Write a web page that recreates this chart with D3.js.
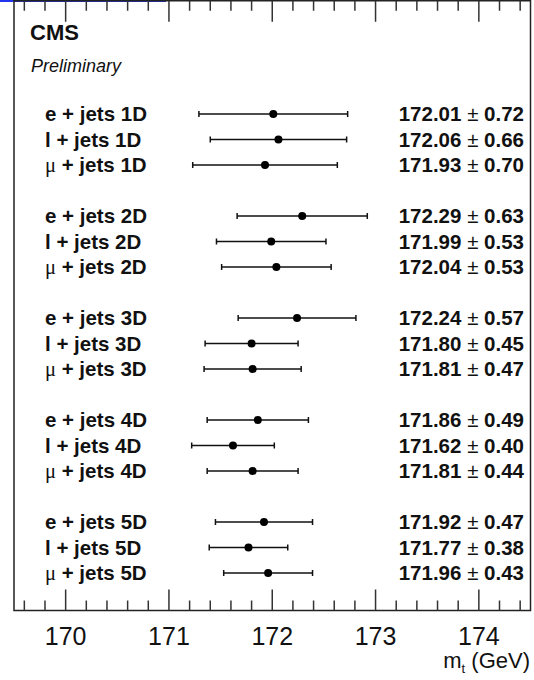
<!DOCTYPE html>
<html>
<head>
<meta charset="utf-8">
<script src="https://cdn.jsdelivr.net/npm/d3@7"></script>
<style>
  body { margin: 0; background: #fff; }
  svg { display: block; }
  text { font-family: "Liberation Sans", Arial, Helvetica, sans-serif; }
</style>
</head>
<body>
<svg id="chart" width="534" height="680"></svg>
<script>
// ---- data ----
const leptons = ["e", "l", "μ"];
const dims = ["1D", "2D", "3D", "4D", "5D"];
const values = [172.01, 172.06, 171.93, 172.29, 171.99, 172.04, 172.24, 171.80, 171.81,
                171.86, 171.62, 171.81, 171.92, 171.77, 171.96];
const errors = [0.72, 0.66, 0.70, 0.63, 0.53, 0.53, 0.57, 0.45, 0.47,
                0.49, 0.40, 0.44, 0.47, 0.38, 0.43];
const xTicks = [170, 171, 172, 173, 174];
const xDomain = [169.5, 174.5];

const rows = [];
dims.forEach((d, g) => leptons.forEach((l, r) => {
  const i = g * 3 + r;
  rows.push({lep: l, dim: d, slot: g * 4 + r, v: values[i], e: errors[i]});
}));

// ---- layout ----
const svg = d3.select("#chart");
const L = 14, R = 530.5, T = 0.75, B = 610.5;
const x = d3.scaleLinear().domain(xDomain).range([L, R]);
const y = d3.scaleLinear().domain([0, 18]).range([114, 573]);
const ink = "#111";

// blue highlight strip at top-left
svg.append("line").attr("x1", 0).attr("x2", 166).attr("y1", 1).attr("y2", 1)
  .attr("stroke", "#2233ee").attr("stroke-width", 2);

// frame
svg.append("rect").attr("x", L).attr("y", T).attr("width", R - L).attr("height", B - T)
  .attr("fill", "none").attr("stroke", "#222").attr("stroke-width", 1.5);

// ticks (inward, top & bottom)
const minor = d3.range(169.6, 174.45, 0.2).map(v => +v.toFixed(1));
const tickG = svg.append("g").attr("stroke", "#333").attr("stroke-width", 1.5);
minor.forEach(v => {
  const major = Math.abs(v - Math.round(v)) < 1e-6;
  const len = major ? 21 : 10;
  tickG.append("line").attr("x1", x(v)).attr("x2", x(v)).attr("y1", B).attr("y2", B - len);
  tickG.append("line").attr("x1", x(v)).attr("x2", x(v)).attr("y1", T).attr("y2", T + len);
});

// tick labels
svg.append("g").selectAll("text").data(xTicks).join("text")
  .attr("x", d => x(d)).attr("y", 645)
  .attr("text-anchor", "middle").attr("font-size", 25).attr("fill", ink)
  .text(d => d);

// axis title
const at = svg.append("text").attr("x", 530).attr("y", 668)
  .attr("text-anchor", "end").attr("font-size", 22).attr("fill", ink);
at.append("tspan").text("m");
at.append("tspan").attr("font-size", 13).attr("dy", 5).text("t");
at.append("tspan").attr("dy", -5).text(" (GeV)");

// CMS / Preliminary
svg.append("text").attr("x", 30).attr("y", 40).attr("font-size", 22)
  .attr("font-weight", "bold").attr("fill", ink).text("CMS");
svg.append("text").attr("x", 31).attr("y", 72).attr("font-size", 18)
  .attr("font-style", "italic").attr("fill", ink).text("Preliminary");

// rows
const rg = svg.append("g").selectAll("g").data(rows).join("g")
  .attr("transform", d => `translate(0,${y(d.slot)})`);

// labels
const lab = rg.append("text").attr("x", 45).attr("y", 7)
  .attr("font-size", 20.5).attr("font-weight", "bold").attr("fill", ink);
lab.append("tspan")
  .attr("font-family", d => d.lep === "μ" ? "'Liberation Serif', 'DejaVu Serif', serif" : null)
  .attr("font-weight", d => d.lep === "μ" ? "normal" : null)
  .text(d => d.lep);
lab.append("tspan").text(d => " + jets " + d.dim);

// values
const vt = rg.append("text").attr("x", 524).attr("y", 7).attr("text-anchor", "end")
  .attr("font-size", 20.5).attr("fill", ink);
vt.append("tspan").attr("font-weight", "bold").text(d => d.v.toFixed(2) + " ");
vt.append("tspan").text("±");
vt.append("tspan").attr("font-weight", "bold").text(d => " " + d.e.toFixed(2));

// error bars
rg.append("line").attr("x1", d => x(d.v - d.e)).attr("x2", d => x(d.v + d.e))
  .attr("y1", 0).attr("y2", 0).attr("stroke", ink).attr("stroke-width", 1.5);
rg.append("line").attr("x1", d => x(d.v - d.e)).attr("x2", d => x(d.v - d.e))
  .attr("y1", -3).attr("y2", 3).attr("stroke", ink).attr("stroke-width", 1.5);
rg.append("line").attr("x1", d => x(d.v + d.e)).attr("x2", d => x(d.v + d.e))
  .attr("y1", -3).attr("y2", 3).attr("stroke", ink).attr("stroke-width", 1.5);
rg.append("circle").attr("cx", d => x(d.v)).attr("cy", 0).attr("r", 4).attr("fill", "#000");
</script>
</body>
</html>
